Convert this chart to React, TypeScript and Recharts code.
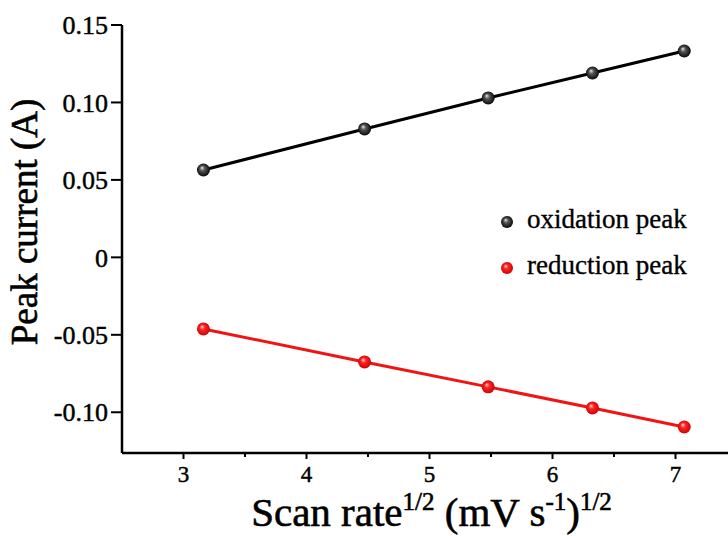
import React from "react";
import { LineChart, Line, XAxis, YAxis } from "recharts";

const scanRate = [3.162, 4.472, 5.477, 6.325, 7.071];
const oxidationPeak = [0.0564, 0.0829, 0.1029, 0.119, 0.1332];
const reductionPeak = [-0.0462, -0.0675, -0.0836, -0.0972, -0.1095];
const xTicks = [3, 3.5, 4, 4.5, 5, 5.5, 6, 6.5, 7, 7.5];
const yTicks = [-0.1, -0.05, 0, 0.05, 0.1, 0.15];
const seriesNames = ["oxidation peak", "reduction peak"];

const data = scanRate.map((x, i) => ({
  x,
  ox: oxidationPeak[i],
  red: reductionPeak[i],
}));

const FONT = '"Liberation Serif", "Times New Roman", serif';
const RED = "#f01414";
const TXT = { fontFamily: FONT, fill: "#000", stroke: "#000", strokeWidth: 0.45 };

const XTick = (props: any) => {
  const { x, y, payload } = props;
  const v = payload.value as number;
  const major = Number.isInteger(v);
  return (
    <g>
      <line x1={x} y1={y} x2={x} y2={y + (major ? 6 : 4)} stroke="#000" strokeWidth={2} />
      {major && (
        <text x={x} y={y + 29} textAnchor="middle" fontSize={23} {...TXT}>
          {v}
        </text>
      )}
    </g>
  );
};

const XTitle = (props: any) => {
  const vb = props.viewBox;
  const cx = vb.x + vb.width / 2 + 2;
  return (
    <text x={cx} y={vb.y + 73} textAnchor="middle" fontSize={41} {...TXT} strokeWidth={0.6}>
      <tspan>Scan rate</tspan>
      <tspan fontSize={25} dy={-16}>1/2</tspan>
      <tspan dy={16}> (mV s</tspan>
      <tspan fontSize={25} dy={-16}>-1</tspan>
      <tspan dy={16}>)</tspan>
      <tspan fontSize={25} dy={-16}>1/2</tspan>
    </text>
  );
};

const YTitle = () => (
  <text
    x={37}
    y={222}
    transform="rotate(-90, 37, 222)"
    textAnchor="middle"
    fontSize={37}
    {...TXT}
    strokeWidth={0.6}
  >
    Peak current (A)
  </text>
);

const Sphere = (id: string) => (props: any) => {
  const { cx, cy, index } = props;
  if (cx == null || cy == null) return <g key={index} />;
  return <circle key={index} cx={cx} cy={cy} r={6.5} fill={`url(#${id})`} />;
};

const Gradients = ({ prefix }: { prefix: string }) => (
  <defs>
    <radialGradient id={`${prefix}Black`} cx="50%" cy="50%" r="55%" fx="38%" fy="32%">
      <stop offset="0%" stopColor="#e8e8e8" />
      <stop offset="35%" stopColor="#555" />
      <stop offset="100%" stopColor="#000" />
    </radialGradient>
    <radialGradient id={`${prefix}Red`} cx="50%" cy="50%" r="55%" fx="38%" fy="32%">
      <stop offset="0%" stopColor="#ffd8d8" />
      <stop offset="35%" stopColor="#ff2525" />
      <stop offset="100%" stopColor="#c80000" />
    </radialGradient>
  </defs>
);

const LegendBox = () => (
  <svg
    width={230}
    height={90}
    style={{ position: "absolute", left: 497, top: 205, display: "block" }}
  >
    <Gradients prefix="lg" />
    <circle cx={10} cy={17} r={6} fill="url(#lgBlack)" />
    <text x={30} y={23} fontSize={27} {...TXT} strokeWidth={0.35}>
      {seriesNames[0]}
    </text>
    <circle cx={10} cy={63} r={6} fill="url(#lgRed)" />
    <text x={30} y={69} fontSize={27} {...TXT} strokeWidth={0.35}>
      {seriesNames[1]}
    </text>
  </svg>
);

export default function App() {
  return (
    <div
      style={{
        position: "absolute",
        left: 0,
        top: 0,
        width: 728,
        height: 536,
        overflow: "hidden",
        background: "#fff",
      }}
    >
      <LineChart
        width={760}
        height={536}
        data={data}
        margin={{ top: 25, right: 23, bottom: 33, left: 62 }}
      >
        <Gradients prefix="g" />
        <XAxis
          dataKey="x"
          type="number"
          domain={[2.5, 7.5]}
          ticks={xTicks}
          interval={0}
          height={50}
          tickLine={false}
          tickSize={0}
          tickMargin={0}
          tick={<XTick />}
          axisLine={{ stroke: "#000", strokeWidth: 2.5 }}
          label={<XTitle />}
        />
        <XAxis
          xAxisId="top"
          orientation="top"
          dataKey="x"
          type="number"
          domain={[2.5, 7.5]}
          height={0}
          tick={false}
          tickLine={false}
          axisLine={{ stroke: "#000", strokeWidth: 2.5 }}
        />
        <YAxis
          type="number"
          domain={[-0.1263, 0.15]}
          ticks={yTicks}
          interval={0}
          width={60}
          tickSize={11}
          tickMargin={3}
          tickLine={{ stroke: "#000", strokeWidth: 2 }}
          axisLine={{ stroke: "#000", strokeWidth: 2.5 }}
          tick={{ fontFamily: FONT, fontSize: 26, fill: "#000", stroke: "#000", strokeWidth: 0.45 }}
          tickFormatter={(v: number) => (v === 0 ? "0" : v.toFixed(2))}
          label={<YTitle />}
        />
        <Line
          type="linear"
          dataKey="ox"
          name={seriesNames[0]}
          stroke="#000"
          strokeWidth={3}
          dot={Sphere("gBlack")}
          activeDot={false}
          isAnimationActive={false}
        />
        <Line
          type="linear"
          dataKey="red"
          name={seriesNames[1]}
          stroke={RED}
          strokeWidth={3}
          dot={Sphere("gRed")}
          activeDot={false}
          isAnimationActive={false}
        />
      </LineChart>
      <LegendBox />
    </div>
  );
}
